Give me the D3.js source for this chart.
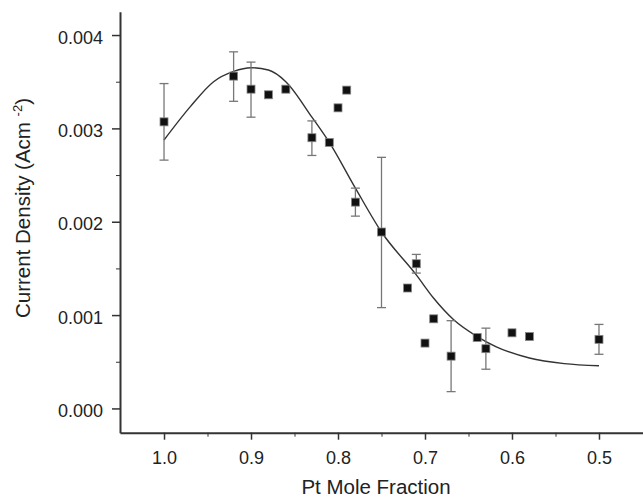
<!DOCTYPE html>
<html>
<head>
<meta charset="utf-8">
<script src="https://cdn.jsdelivr.net/npm/d3@7"></script>
<style>
  body { margin: 0; background: #fff; }
  svg { display: block; font-family: "Liberation Sans", Arial, sans-serif; }
  .axis path, .axis line { stroke: #333; }
  .axis text { fill: #222; font-size: 18px; }
</style>
</head>
<body>
<svg class="chart" width="643" height="499"></svg>
<script>
// measured points: Pt mole fraction, current density (A cm^-2), error bar ends
const fraction = [1.0, 0.92, 0.90, 0.88, 0.86, 0.83, 0.81, 0.80, 0.79, 0.78, 0.75, 0.72, 0.71, 0.70, 0.69, 0.67, 0.64, 0.63, 0.60, 0.58, 0.50]
const density = [0.00307, 0.00356, 0.00342, 0.00336, 0.00342, 0.00290, 0.00285, 0.00322, 0.00341, 0.00221, 0.00189, 0.00129, 0.00155, 0.00070, 0.00096, 0.00056, 0.00076, 0.00064, 0.00081, 0.00077, 0.00074]
const errHigh = [0.00348, 0.00382, 0.00371, null, null, 0.00308, null, null, null, 0.00236, 0.00269, null, 0.00165, null, null, 0.00094, null, 0.00086, null, null, 0.00090]
const errLow = [0.00266, 0.00329, 0.00312, null, null, 0.00271, null, null, null, 0.00206, 0.00108, null, 0.00145, null, null, 0.00018, null, 0.00042, null, null, 0.00058]

// fitted curve
const fitX = [1.0, 0.97, 0.943, 0.92, 0.90, 0.88, 0.86, 0.83, 0.81, 0.78, 0.75, 0.71, 0.69, 0.667, 0.64, 0.618, 0.58, 0.54, 0.50]
const fitY = [0.002875, 0.00323, 0.00350, 0.00361, 0.00365, 0.003625, 0.00350, 0.00312, 0.00285, 0.00236, 0.00189, 0.00143, 0.00118, 0.00095, 0.00077, 0.00066, 0.00054, 0.00048, 0.000457]

// tick values
const xTicks = [1.0, 0.9, 0.8, 0.7, 0.6, 0.5]
const xMinor = [0.95, 0.85, 0.75, 0.65, 0.55]
const yTicks = [0, 0.001, 0.002, 0.003, 0.004]
const yMinor = [0.0005, 0.0015, 0.0025, 0.0035]

const svg = d3.select('.chart')

const x = d3.scaleLinear().domain([1.0506, 0.4494]).range([120, 643])
const y = d3.scaleLinear().domain([-0.00026, 0.00425]).range([432.7, 11.7])

// minor ticks first so the domain lines of the major axes sit on top
svg.append('g')
    .attr('class', 'axis')
    .attr('transform', 'translate(0,432.7)')
    .call(d3.axisBottom(x).tickValues(xMinor).tickSize(4).tickSizeOuter(0).tickFormat(''))
    .call(g => g.select('.domain').remove())

svg.append('g')
    .attr('class', 'axis')
    .attr('transform', 'translate(120,0)')
    .call(d3.axisLeft(y).tickValues(yMinor).tickSize(4).tickSizeOuter(0).tickFormat(''))
    .call(g => g.select('.domain').remove())

const xAxis = svg.append('g')
    .attr('class', 'axis')
    .attr('transform', 'translate(0,432.7)')
    .call(d3.axisBottom(x).tickValues(xTicks).tickSize(7).tickSizeOuter(0).tickPadding(12).tickFormat(d3.format('.1f')))
xAxis.select('.domain').attr('stroke-width', 2)
xAxis.selectAll('line').attr('stroke-width', 1.5)

const yAxis = svg.append('g')
    .attr('class', 'axis')
    .attr('transform', 'translate(120,0)')
    .call(d3.axisLeft(y).tickValues(yTicks).tickSize(8).tickSizeOuter(0).tickPadding(9).tickFormat(d3.format('.3f')))
yAxis.select('.domain').attr('stroke-width', 2)
yAxis.selectAll('line').attr('stroke-width', 1.5)
yAxis.selectAll('text').attr('dy', '0.45em')
svg.selectAll('.axis line').attr('stroke', '#333')

// axis titles
svg.append('text')
    .attr('x', 376)
    .attr('y', 494)
    .attr('text-anchor', 'middle')
    .attr('font-size', 20.5)
    .attr('fill', '#222')
    .text('Pt Mole Fraction')

const yTitle = svg.append('text')
    .attr('transform', 'translate(30,208) rotate(-90)')
    .attr('text-anchor', 'middle')
    .attr('font-size', 20.5)
    .attr('fill', '#222')
yTitle.append('tspan').text('Current Density (Acm ')
yTitle.append('tspan').attr('font-size', 13).attr('dy', -8).text('-2')
yTitle.append('tspan').attr('dy', 8).text(')')

// fitted line
const fit = fitX.map((d, i) => [d, fitY[i]])
svg.append('path')
    .datum(fit)
    .attr('fill', 'none')
    .attr('stroke', '#333')
    .attr('stroke-width', 1.4)
    .attr('d', d3.line().x(d => x(d[0])).y(d => y(d[1])).curve(d3.curveMonotoneX))

// error bars
const points = fraction.map((d, i) => ({ fx: d, v: density[i], hi: errHigh[i], lo: errLow[i] }))
const withErr = points.filter(d => d.hi !== null)
const bars = svg.append('g')
    .attr('stroke', '#777')
    .attr('stroke-width', 1.3)
    .selectAll('g')
    .data(withErr)
    .join('g')

bars.append('line')
    .attr('x1', d => x(d.fx)).attr('x2', d => x(d.fx))
    .attr('y1', d => y(d.hi)).attr('y2', d => y(d.lo))
bars.append('line')
    .attr('x1', d => x(d.fx) - 4.5).attr('x2', d => x(d.fx) + 4.5)
    .attr('y1', d => y(d.hi)).attr('y2', d => y(d.hi))
bars.append('line')
    .attr('x1', d => x(d.fx) - 4.5).attr('x2', d => x(d.fx) + 4.5)
    .attr('y1', d => y(d.lo)).attr('y2', d => y(d.lo))

// square markers
svg.append('g')
    .selectAll('rect')
    .data(points)
    .join('rect')
    .attr('x', d => x(d.fx) - 4)
    .attr('y', d => y(d.v) - 4)
    .attr('width', 8)
    .attr('height', 8)
    .attr('fill', '#111')
    .attr('stroke', '#888')
    .attr('stroke-width', 0.8)
</script>
</body>
</html>
